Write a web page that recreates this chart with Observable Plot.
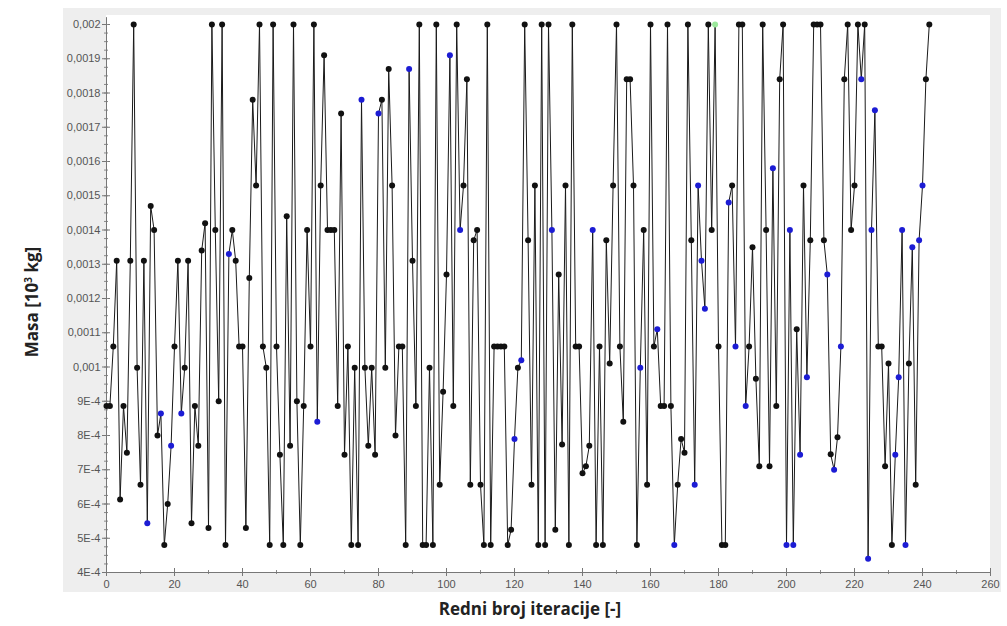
<!DOCTYPE html>
<html><head><meta charset="utf-8">
<script src="https://cdn.jsdelivr.net/npm/d3@7"></script>
<script src="https://cdn.jsdelivr.net/npm/@observablehq/plot@0.6"></script>
<style>
body{margin:0;background:#fff;}
#wrap{position:relative;width:1007px;height:626px;overflow:hidden;}
#gray{position:absolute;left:63px;top:8px;width:938px;height:584px;background:#eeeeee;}
#white{position:absolute;left:106px;top:15px;width:884px;height:557px;background:#fff;}
#chart{position:absolute;left:0;top:0;}
.ytitle{position:absolute;left:31px;top:302px;transform:translate(-50%,-50%) rotate(-90deg);font:bold 17px "Open Sans",sans-serif;white-space:nowrap;color:#222;}
.xtitle{position:absolute;left:530px;top:608px;transform:translate(-50%,-50%);font:bold 17px "Open Sans",sans-serif;white-space:nowrap;color:#222;}
</style>
</head><body>
<div id="wrap">
  <div id="gray"></div>
  <div id="white"></div>
  <div id="chart"></div>
  <div class="ytitle">Masa [10<sup style="font-size:10px;vertical-align:6px">3</sup> kg]</div>
  <div class="xtitle">Redni broj iteracije [-]</div>
</div>
<script>
// Mass value of each iteration (index = iteration number)
const masa = [
0.000886,0.000886,0.00106,0.00131,0.000613,0.000886,0.00075,0.00131,0.002,0.000998,
0.000656,0.00131,0.000544,0.00147,0.0014,0.0008,0.000864,0.00048,0.0006,0.00077,
0.00106,0.00131,0.000864,0.000998,0.00131,0.000544,0.000886,0.00077,0.00134,0.00142,
0.00053,0.002,0.0014,0.0009,0.002,0.00048,0.00133,0.0014,0.00131,0.00106,
0.00106,0.00053,0.00126,0.00178,0.00153,0.002,0.00106,0.000998,0.00048,0.002,
0.00106,0.000744,0.00048,0.00144,0.00077,0.002,0.0009,0.00048,0.000886,0.0014,
0.00106,0.002,0.00084,0.00153,0.00191,0.0014,0.0014,0.0014,0.000886,0.00174,
0.000744,0.00106,0.00048,0.000998,0.00048,0.00178,0.000998,0.00077,0.000998,0.000744,
0.00174,0.00178,0.000998,0.00187,0.00153,0.0008,0.00106,0.00106,0.00048,0.00187,
0.00131,0.000886,0.002,0.00048,0.00048,0.000998,0.00048,0.002,0.000656,0.000928,
0.00127,0.00191,0.000886,0.002,0.0014,0.00153,0.00184,0.000656,0.00137,0.0014,
0.000656,0.00048,0.002,0.00048,0.00106,0.00106,0.00106,0.00106,0.00048,0.000525,
0.00079,0.000998,0.00102,0.002,0.00137,0.000656,0.00153,0.00048,0.002,0.00048,
0.002,0.0014,0.000525,0.00127,0.000774,0.00153,0.00048,0.002,0.00106,0.00106,
0.00069,0.00071,0.00077,0.0014,0.00048,0.00106,0.00048,0.00137,0.00101,0.00153,
0.002,0.00106,0.00084,0.00184,0.00184,0.00153,0.00048,0.000998,0.0014,0.000656,
0.002,0.00106,0.00111,0.000886,0.000886,0.002,0.000886,0.00048,0.000656,0.00079,
0.00075,0.002,0.00137,0.000656,0.00153,0.00131,0.00117,0.002,0.0014,0.002,
0.00106,0.00048,0.00048,0.00148,0.00153,0.00106,0.002,0.002,0.000886,0.00106,
0.00135,0.000966,0.00071,0.002,0.0014,0.00071,0.00158,0.000886,0.00184,0.002,
0.00048,0.0014,0.00048,0.00111,0.000744,0.00153,0.00097,0.00137,0.002,0.002,
0.002,0.00137,0.00127,0.000745,0.0007,0.000795,0.00106,0.00184,0.002,0.0014,
0.00153,0.002,0.00184,0.002,0.00044,0.0014,0.00175,0.00106,0.00106,0.00071,
0.00101,0.00048,0.000744,0.00097,0.0014,0.00048,0.00101,0.00135,0.000656,0.00137,
0.00153,0.00184,0.002
];
// Iterations drawn with blue markers, and the green one
const blueIter = [12,16,19,22,36,62,75,80,89,101,104,120,122,131,143,157,162,167,173,174,175,176,
  183,185,188,196,200,201,202,204,206,212,214,216,222,224,225,226,232,233,234,235,237,239,240];
const greenIter = [179];

const yTicks = [0.002,0.0019,0.0018,0.0017,0.0016,0.0015,0.0014,0.0013,0.0012,0.0011,0.001,0.0009,0.0008,0.0007,0.0006,0.0005,0.0004];
const yTickLabels = ["0,002","0,0019","0,0018","0,0017","0,0016","0,0015","0,0014","0,0013","0,0012","0,0011","0,001","9E-4","8E-4","7E-4","6E-4","5E-4","4E-4"];
const xTicks = [0,20,40,60,80,100,120,140,160,180,200,220,240,260];
const xMinor = [10,30,50,70,90,110,130,150,170,190,210,230,250];
const yMinor = d3.range(0, 65).map(k => 0.0004 + k * 0.000025);

const data = masa.map((v, i) => ({
  i, v,
  c: greenIter.includes(i) ? "#9be89b" : blueIter.includes(i) ? "#1c1cd4" : "#111"
}));
const fmt = d => { const k = yTicks.findIndex(t => Math.abs(t - d) < 1e-9); return k >= 0 ? yTickLabels[k] : ""; };

const W = 1007, H = 626, mL = 106, mR = 17, mT = 24, mB = 54;
const pw = W - mL - mR, ph = H - mT - mB;

const chart = Plot.plot({
  width: W, height: H,
  marginLeft: mL, marginRight: mR, marginTop: mT, marginBottom: mB,
  style: {background: "transparent", fontFamily: "'Liberation Sans', Arial, sans-serif", fontSize: "11px", color: "#555"},
  x: {domain: [0, 260]},
  y: {domain: [0.0004, 0.002]},
  color: {type: "identity"},
  marks: [
    Plot.axisY({ticks: yMinor, tickSize: 2, tickFormat: () => "", label: null, stroke: "#888"}),
    Plot.axisY({ticks: yTicks, tickSize: 4, tickPadding: 2, tickFormat: fmt, label: null, stroke: "#777", fill: "#555"}),
    Plot.axisX({ticks: xMinor, tickSize: 2, tickFormat: () => "", label: null, stroke: "#888"}),
    Plot.axisX({ticks: xTicks, tickSize: 4, tickPadding: 4, tickFormat: d => String(d), label: null, stroke: "#777", fill: "#555"}),
    Plot.tickY(yTicks, {y: d => d, insetRight: pw - 4, stroke: "#777"}),
    Plot.tickY(yMinor, {y: d => d, insetRight: pw - 2, stroke: "#888"}),
    Plot.tickX(xTicks, {x: d => d, insetTop: ph - 4, stroke: "#777"}),
    Plot.tickX(xMinor, {x: d => d, insetTop: ph - 2, stroke: "#888"}),
    Plot.ruleX([0], {stroke: "#777", y1: 0.0004, y2: 0.00202}),
    Plot.ruleY([0.0004], {stroke: "#777"}),
    Plot.line(data, {x: "i", y: "v", stroke: "#1a1a1a", strokeWidth: 1}),
    Plot.dot(data, {x: "i", y: "v", r: 3, fill: "c", stroke: null})
  ]
});
document.getElementById("chart").appendChild(chart);
</script>
</body></html>
